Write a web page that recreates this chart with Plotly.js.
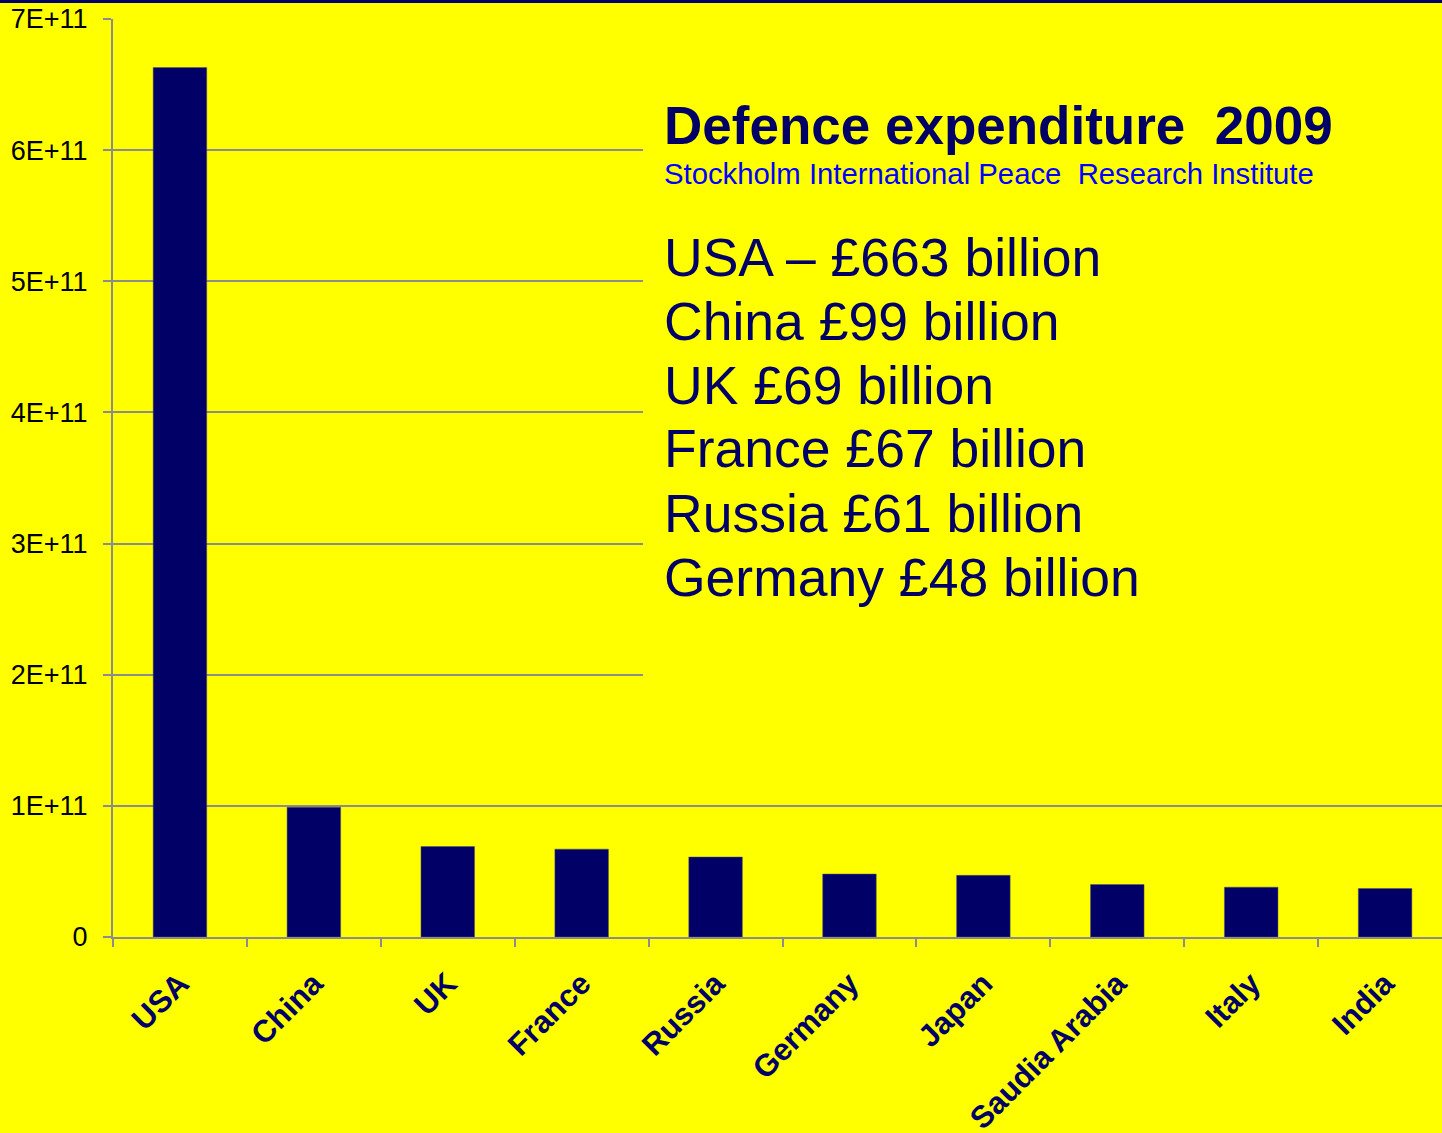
<!DOCTYPE html>
<html>
<head>
<meta charset="utf-8">
<script src="https://cdn.plot.ly/plotly-3.0.1.min.js"></script>
<style>html,body{margin:0;padding:0;background:#ffff00;}#chart{width:1442px;height:1133px;}</style>
</head>
<body>
<div id="chart"></div>
<script>
const countries = ["USA","China","UK","France","Russia","Germany","Japan","Saudia Arabia","Italy","India"];
const spending = [663e9, 99e9, 69e9, 67e9, 61e9, 48e9, 47e9, 40e9, 38e9, 37e9];
const yTickVals = [0, 1e11, 2e11, 3e11, 4e11, 5e11, 6e11, 7e11];
const yTickText = ["0","1E+11","2E+11","3E+11","4E+11","5E+11","6E+11","7E+11"];
const titleText = "Defence expenditure  2009";
const sourceText = "Stockholm International Peace  Research Institute";
const listLines = ["USA – £663 billion","China £99 billion","UK £69 billion","France £67 billion","Russia £61 billion","Germany £48 billion"];

const W = 1442, H = 1133;
const mL = 113, mT = 19, mB = 196, mR = 0;
const pw = W - mL - mR, ph = H - mT - mB;
const px = x => (x - mL) / pw;
const py = y => (H - mB - y) / ph;

const font = "Liberation Sans, Arial, Helvetica, sans-serif";
const navy = "#000066";

const annotations = [
  {text: "<b>" + titleText + "</b>", xref: "paper", yref: "paper", x: px(662), y: py(125), xanchor: "left", yanchor: "middle", showarrow: false, font: {family: font, size: 53, color: navy}},
  {text: sourceText, xref: "paper", yref: "paper", x: px(662), y: py(173), xanchor: "left", yanchor: "middle", showarrow: false, font: {family: font, size: 29.3, color: "#0000ff"}}
];
listLines.forEach((t, i) => {
  annotations.push({text: t, xref: "paper", yref: "paper", x: px(662), y: py(257 + i * 64), xanchor: "left", yanchor: "middle", showarrow: false, font: {family: font, size: 53.5, color: navy}});
});

const data = [{
  type: "bar",
  x: countries,
  y: spending,
  width: 0.4,
  marker: {color: navy, line: {color: "#555577", width: 0.5}},
  hoverinfo: "x+y"
}];

const layout = {
  width: W, height: H,
  margin: {l: mL, r: mR, t: mT, b: mB, pad: 0},
  paper_bgcolor: "#ffff00",
  plot_bgcolor: "#ffff00",
  showlegend: false,
  font: {family: font},
  xaxis: {
    type: "category",
    range: [-0.5, 9.425],
    tickson: "boundaries",
    ticks: "outside", ticklen: 8, tickwidth: 2, tickcolor: "#8c8c8c",
    showgrid: false, zeroline: false,
    showline: true, linecolor: "#8c8c8c", linewidth: 2,
    tickangle: -45,
    ticklabelstandoff: 14,
    tickfont: {family: font, size: 31, color: navy, weight: "bold"},
    fixedrange: true
  },
  yaxis: {
    range: [0, 7e11],
    tickvals: yTickVals, ticktext: yTickText,
    ticks: "outside", ticklen: 8, tickwidth: 2, tickcolor: "#8c8c8c",
    showgrid: true, gridcolor: "#8c8c8c", gridwidth: 2,
    zeroline: false,
    showline: true, linecolor: "#8c8c8c", linewidth: 2,
    ticklabelstandoff: 10,
    tickfont: {family: font, size: 27, color: "#000000"},
    fixedrange: true
  },
  shapes: [
    {type: "rect", xref: "paper", yref: "paper", x0: px(643), x1: px(1442) + 0.01, y0: py(790), y1: py(40), fillcolor: "#ffff00", line: {width: 0}, layer: "above"},
    {type: "rect", xref: "paper", yref: "paper", x0: 0 - mL / pw, x1: 1.01, y0: py(3), y1: py(-2), fillcolor: navy, line: {width: 0}, layer: "above"}
  ],
  annotations: annotations
};

Plotly.newPlot("chart", data, layout, {displayModeBar: false, staticPlot: true});
</script>
</body>
</html>
